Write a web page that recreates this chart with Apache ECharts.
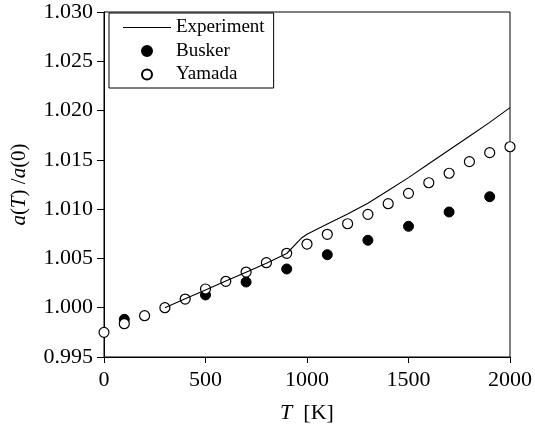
<!DOCTYPE html>
<html>
<head>
<meta charset="utf-8">
<script src="https://cdn.jsdelivr.net/npm/echarts@6/dist/echarts.min.js"></script>
<style>
    html, body { margin: 0; padding: 0; background: #fff; }
    #fig_lattice { width: 535px; height: 430px; }
</style>
</head>
<body>
<div id="fig_lattice"></div>
<script>
// temperatures [K]
var exp_T = [300, 400, 500, 600, 700, 800, 900, 975, 1000, 1100, 1200, 1300, 1400, 1500, 1600, 1700, 1800, 1900, 2000];
var exp_ratio = [1.0000, 1.0009, 1.0018, 1.0027, 1.0036, 1.0045, 1.0055, 1.0071, 1.00745, 1.0085, 1.0095, 1.0106, 1.0119, 1.0132, 1.0146, 1.0160, 1.0174, 1.0188, 1.0203];

var busker_T = [100, 500, 700, 900, 1100, 1300, 1500, 1700, 1900];
var busker_ratio = [0.99882, 1.00129, 1.00261, 1.00393, 1.00538, 1.00684, 1.00826, 1.00971, 1.01126];

var yamada_T = [0, 100, 200, 300, 400, 500, 600, 700, 800, 900, 1000, 1100, 1200, 1300, 1400, 1500, 1600, 1700, 1800, 1900, 2000];
var yamada_ratio = [0.9975, 0.99838, 0.99919, 1.0000, 1.00088, 1.0019, 1.00268, 1.00362, 1.00457, 1.00552, 1.00646, 1.00745, 1.00852, 1.00947, 1.01055, 1.0116, 1.01268, 1.01364, 1.01482, 1.01573, 1.01633];

var x_ticks = [0, 500, 1000, 1500, 2000];
var y_ticks = [0.995, 1.000, 1.005, 1.010, 1.015, 1.020, 1.025, 1.030];

var font = '"Liberation Serif", "DejaVu Serif", serif';

function pairs(xs, ys) {
    return xs.map(function(v, i) { return [v, ys[i]]; });
}

var chart = echarts.init(document.getElementById('fig_lattice'));

var option = {
    animation: false,
    backgroundColor: '#fff',
    grid: {
        left: 104,
        right: 24,
        top: 12,
        bottom: 73,
        show: true,
        borderColor: '#000',
        borderWidth: 1
    },
    legend: {
        orient: 'vertical',
        left: 109,
        top: 13,
        padding: [5, 9, 4, 14],
        itemGap: 4.5,
        itemWidth: 48,
        itemHeight: 10,
        borderColor: '#000',
        borderWidth: 1,
        backgroundColor: '#fff',
        textStyle: { fontFamily: font, fontSize: 19, color: '#000' },
        data: [
            // plain line sample, no marker
            { name: 'Experiment', icon: 'path://M0,0 L40,0 L40,1 L0,1 Z' },
            'Busker',
            'Yamada'
        ]
    },
    xAxis: {
        type: 'value',
        min: x_ticks[0],
        max: x_ticks[x_ticks.length - 1],
        interval: 500,
        name: '{i|T}  [K]',
        nameLocation: 'middle',
        nameGap: 45,
        nameTextStyle: {
            fontFamily: font, fontSize: 22, color: '#000',
            rich: { i: { fontFamily: font, fontSize: 22, fontStyle: 'italic', color: '#000' } }
        },
        axisLine: { lineStyle: { color: '#000', width: 1 } },
        axisTick: { length: 6, lineStyle: { color: '#000' } },
        axisLabel: {
            margin: 12, fontFamily: font, fontSize: 22, color: '#000',
            formatter: function(v) { return String(v); }
        },
        splitLine: { show: false }
    },
    yAxis: {
        type: 'value',
        min: y_ticks[0],
        max: y_ticks[y_ticks.length - 1],
        interval: 0.005,
        name: '{i|a}({i|T}) /{i|a}(0)',
        nameLocation: 'middle',
        nameGap: 74,
        nameTextStyle: {
            fontFamily: font, fontSize: 21, color: '#000',
            rich: { i: { fontFamily: font, fontSize: 21, fontStyle: 'italic', color: '#000' } }
        },
        axisLine: { lineStyle: { color: '#000', width: 1 } },
        axisTick: { length: 7, lineStyle: { color: '#000' } },
        axisLabel: {
            margin: 11, fontFamily: font, fontSize: 22, color: '#000',
            formatter: function(v) { return v.toFixed(3); }
        },
        splitLine: { show: false }
    },
    series: [
        {
            name: 'Experiment',
            type: 'line',
            symbol: 'none',
            smooth: false,
            lineStyle: { color: '#000', width: 1.1 },
            itemStyle: { color: '#000' },
            data: pairs(exp_T, exp_ratio)
        },
        {
            name: 'Busker',
            type: 'scatter',
            symbol: 'circle',
            symbolSize: 10,
            itemStyle: { color: '#000', borderColor: '#000', borderWidth: 1, opacity: 1 },
            data: pairs(busker_T, busker_ratio)
        },
        {
            name: 'Yamada',
            type: 'scatter',
            symbol: 'circle',
            symbolSize: 10,
            itemStyle: { color: '#fff', borderColor: '#000', borderWidth: 1.2, opacity: 1 },
            data: pairs(yamada_T, yamada_ratio)
        }
    ]
};

chart.setOption(option);
</script>
</body>
</html>
